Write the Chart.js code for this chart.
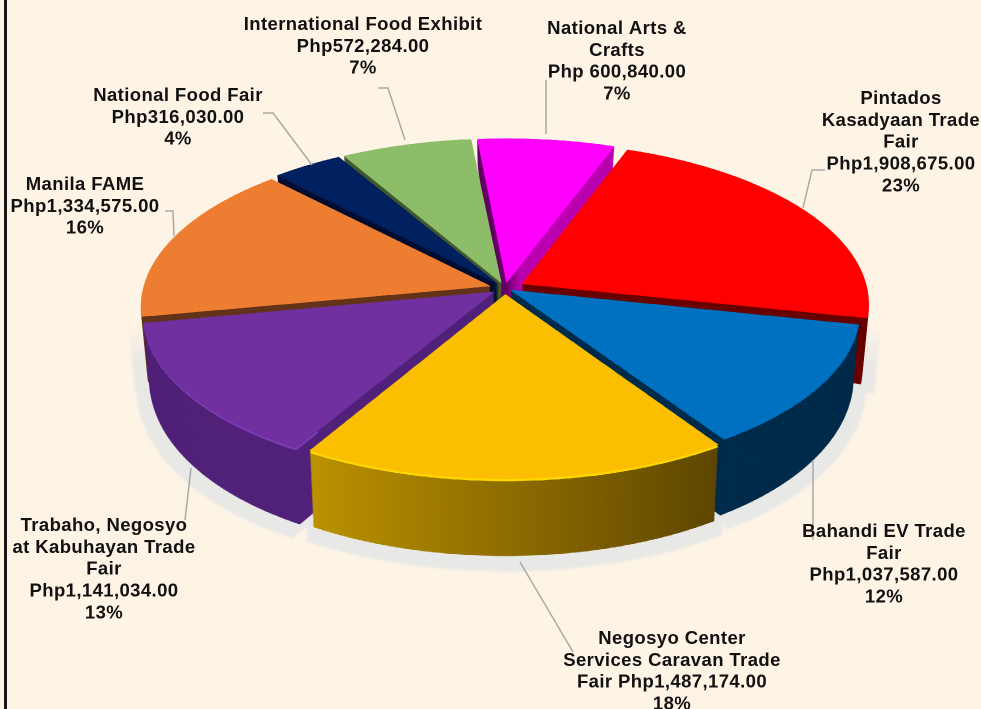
<!DOCTYPE html>
<html>
<head>
<meta charset="utf-8">
<title>Trade fairs</title>
<script src="https://cdn.jsdelivr.net/npm/chart.js@4/dist/chart.umd.min.js"></script>
<style>
  html, body { margin: 0; padding: 0; background: #fef4e6; overflow: hidden; }
  #borde { position: absolute; left: 4px; top: 0; width: 3px; height: 709px; background: #1a1a1a; }
  #grafico { position: absolute; left: 0; top: 0; }
</style>
</head>
<body>
<canvas id="grafico" width="981" height="709" style="width:981px;height:709px"></canvas>
<div id="borde"></div>
<script>
// values in pesos, clockwise from the top
const categories = ['National Arts & Crafts', 'Pintados Kasadyaan Trade Fair', 'Bahandi EV Trade Fair',
    'Negosyo Center Services Caravan Trade Fair', 'Trabaho, Negosyo at Kabuhayan Trade Fair',
    'Manila FAME', 'National Food Fair', 'International Food Exhibit'];
const values = [600840, 1908675, 1037587, 1487174, 1141034, 1334575, 316030, 572284];
const labelLines = [
    ['National Arts &', 'Crafts', 'Php 600,840.00', '7%'],
    ['Pintados', 'Kasadyaan Trade', 'Fair', 'Php1,908,675.00', '23%'],
    ['Bahandi EV Trade', 'Fair', 'Php1,037,587.00', '12%'],
    ['Negosyo Center', 'Services Caravan Trade', 'Fair Php1,487,174.00', '18%'],
    ['Trabaho, Negosyo', 'at Kabuhayan Trade', 'Fair', 'Php1,141,034.00', '13%'],
    ['Manila FAME', 'Php1,334,575.00', '16%'],
    ['National Food Fair', 'Php316,030.00', '4%'],
    ['International Food Exhibit', 'Php572,284.00', '7%']
];

const topColors = ['#ff00ff', '#ff0000', '#0070c0', '#fbbe00', '#7030a0', '#ed7d31', '#002060', '#8dbd69'];
const sideColors = ['#b800b0', '#6a0000', '#002c4c', '#8a6700', '#52237a', '#63331a', '#000f30', '#435a30'];
const rimColors = [null, null, null, '#ffd800', '#7d3cb0', null, null, null];
const slicePull = [44, 72, 24, 48, 48, 56, 40, 44];

// x centre and first line y of each label, leader line points
const labelPos = [[617, 29], [901, 99], [884, 532], [672, 639], [104, 526], [85, 185], [178, 96], [363, 25]];
const leaders = [
    [[546, 80], [546, 134]],
    [[825, 170], [812, 170], [803, 208]],
    [[813, 460], [813, 540]],
    [[520, 562], [573, 652]],
    [[191, 468], [185, 520]],
    [[165, 211], [173, 211], [174, 236]],
    [[263, 113], [273, 113], [312, 165]],
    [[378, 88], [388, 88], [405, 140]]
];

// tilt of the pie
const cx = 505, cy = 288, radiusX = 345, radiusY = 160, persp = 0.12;
const dpr = 2;

function sideDepth(t) {
    return 62 + 24 * t - 9 * t * t;
}

function nuevoCanvas(w, h) {
    const c = document.createElement('canvas');
    c.width = w;
    c.height = h;
    return c;
}

// draws the flat image row by row onto the tilted plane, lam = how far down the side
function warp(dst, src, arc, lam, rows) {
    const R = arc.outerRadius;
    const cssW = src.width / dpr;
    const tMax = Math.min(arc.y, src.height / dpr - arc.y) / R;
    const dt = 2 * tMax / rows;
    for (let i = 0; i < rows; i++) {
        const t0 = -tMax + i * dt, t1 = t0 + dt;
        const s = 1 / (1 - persp * t0);
        const y0 = cy + radiusY * t0 * s + lam * sideDepth(t0);
        const y1 = cy + radiusY * t1 / (1 - persp * t1) + lam * sideDepth(t1);
        const sc = radiusX * s / R * (1 - lam * 0.018);
        dst.drawImage(src, 0, (arc.y + t0 * R) * dpr, src.width, dt * R * dpr,
            cx - arc.x * sc, y0, cssW * sc, y1 - y0 + 0.5);
    }
}

// draws the slices into a flat canvas with other fills
function pintarArcos(arcs, canvas, fillFor) {
    const c = canvas.getContext('2d');
    c.save();
    c.scale(dpr, dpr);
    arcs.forEach((arc, i) => {
        const fill = fillFor(i, c);
        if (!fill) return;
        const saved = arc.options;
        arc.options = Object.assign({}, saved, { backgroundColor: fill });
        arc.draw(c);
        arc.options = saved;
    });
    c.restore();
    return c;
}

const pie3d = {
    id: 'pie3d',
    afterDatasetsDraw(chart) {
        const arcs = chart.getDatasetMeta(0).data;
        const W = chart.canvas.width, H = chart.canvas.height;
        const ctx = chart.ctx;
        const arc0 = arcs[0];

        const flatTop = nuevoCanvas(W, H);
        flatTop.getContext('2d').drawImage(chart.canvas, 0, 0);

        // lighter ring for the bevel on the front slices
        const flatRim = nuevoCanvas(W, H);
        const fr = pintarArcos(arcs, flatRim, i => rimColors[i]);
        fr.globalCompositeOperation = 'destination-out';
        fr.beginPath();
        fr.arc(arc0.x * dpr, arc0.y * dpr, arc0.outerRadius * dpr * 0.94, 0, Math.PI * 2);
        fr.fill();

        // same arcs again in the wall colours
        const flatSide = nuevoCanvas(W, H);
        const r = arc0.outerRadius;
        pintarArcos(arcs, flatSide, (i, c) => {
            if (i === 3) {
                const g = c.createLinearGradient(arc0.x - r * 0.55, 0, arc0.x + r * 0.55, 0);
                g.addColorStop(0, '#c09500');
                g.addColorStop(1, '#5f4700');
                return g;
            }
            if (i === 0) {
                const g = c.createLinearGradient(arc0.x, 0, arc0.x + 12, 0);
                g.addColorStop(0, '#660066');
                g.addColorStop(1, '#bb00b0');
                return g;
            }
            return sideColors[i];
        });

        const sideCanvas = nuevoCanvas(W, H);
        const sc = sideCanvas.getContext('2d');
        sc.scale(dpr, dpr);
        const layers = 60;
        for (let l = layers; l >= 1; l--) {
            warp(sc, flatSide, arc0, l / layers, 380);
        }

        // pale shadow on the ground, same outline as the walls, fades out going up
        const shadow = nuevoCanvas(W, H);
        const sh = shadow.getContext('2d');
        sh.scale(dpr, dpr);
        sh.translate(cx, 300);
        sh.scale(1.036, 1.036);
        sh.translate(-cx, -294);
        sh.drawImage(sideCanvas, 0, 0, W / dpr, H / dpr);
        sh.setTransform(1, 0, 0, 1, 0, 0);
        sh.globalCompositeOperation = 'source-in';
        sh.fillStyle = '#e8e8e6';
        sh.fillRect(0, 0, W, H);
        sh.globalCompositeOperation = 'destination-out';
        const fade = sh.createLinearGradient(0, 325 * dpr, 0, 365 * dpr);
        fade.addColorStop(0, 'rgba(0,0,0,1)');
        fade.addColorStop(1, 'rgba(0,0,0,0)');
        sh.fillStyle = fade;
        sh.fillRect(0, 0, W, 365 * dpr);

        ctx.save();
        ctx.setTransform(dpr, 0, 0, dpr, 0, 0);
        ctx.clearRect(0, 0, W, H);
        ctx.filter = 'blur(2px)';
        ctx.drawImage(shadow, 0, 0, W / dpr, H / dpr);
        ctx.filter = 'none';
        ctx.drawImage(sideCanvas, 0, 0, W / dpr, H / dpr);
        // soft rim where the top meets the wall
        warp(ctx, flatRim, arc0, 0.03, 500);
        warp(ctx, flatTop, arc0, 0, 800);
        ctx.restore();
    },
    afterDraw(chart) {
        const ctx = chart.ctx;
        ctx.save();
        ctx.strokeStyle = '#a9a9a9';
        ctx.lineWidth = 1.5;
        leaders.forEach(pts => {
            ctx.beginPath();
            pts.forEach((p, i) => i ? ctx.lineTo(p[0], p[1]) : ctx.moveTo(p[0], p[1]));
            ctx.stroke();
        });
        ctx.font = 'bold 18.5px "Liberation Sans", Arial, sans-serif';
        ctx.letterSpacing = '0.4px';
        ctx.fillStyle = '#111';
        ctx.textAlign = 'center';
        ctx.textBaseline = 'middle';
        labelLines.forEach((lines, i) => {
            lines.forEach((txt, j) => {
                ctx.fillText(txt, labelPos[i][0], labelPos[i][1] + j * 21.8);
            });
        });
        ctx.restore();
    }
};

const graficoCtx = document.getElementById('grafico').getContext('2d');
const grafico = new Chart(graficoCtx, {
    type: 'pie',
    data: {
        labels: categories,
        datasets: [{
            data: values,
            backgroundColor: topColors,
            borderWidth: 0,
            offset: slicePull
        }]
    },
    options: {
        responsive: false,
        animation: false,
        devicePixelRatio: dpr,
        rotation: -5.5,
        layout: { padding: 0 },
        plugins: { legend: { display: false }, tooltip: { enabled: false } },
        events: []
    },
    plugins: [pie3d]
});
</script>
</body>
</html>
